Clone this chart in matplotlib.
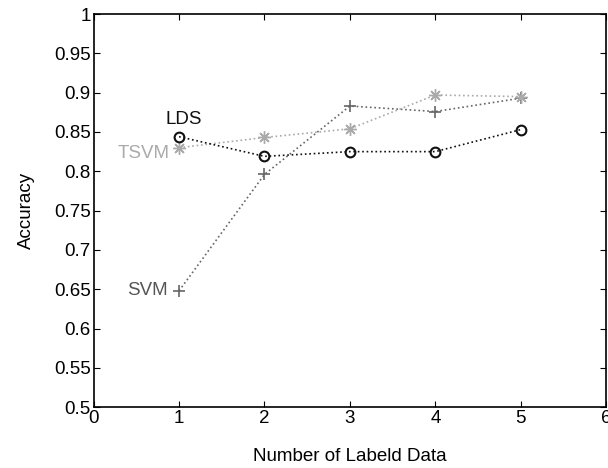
import numpy as np
import matplotlib
matplotlib.use('Agg')
import matplotlib.pyplot as plt

plt.rcParams['font.family'] = ['Liberation Sans', 'DejaVu Sans']

x = [1, 2, 3, 4, 5]
lds = [0.844, 0.819, 0.825, 0.825, 0.853]
tsvm = [0.830, 0.843, 0.854, 0.897, 0.895]
svm = [0.648, 0.796, 0.883, 0.876, 0.893]

xticks = [0, 1, 2, 3, 4, 5, 6]
yticks = [0.5, 0.55, 0.6, 0.65, 0.7, 0.75, 0.8, 0.85, 0.9, 0.95, 1]
ytick_labels = ['0.5', '0.55', '0.6', '0.65', '0.7', '0.75', '0.8', '0.85', '0.9', '0.95', '1']

fs = 13.5

fig = plt.figure(figsize=(6.08, 4.68), dpi=100)
ax = fig.add_axes([0.154, 0.13, 0.843, 0.84])

ax.plot(x, svm, linestyle=':', color='#666666', marker='+', markersize=9,
        markeredgewidth=1.2, linewidth=1.2)
ax.plot(x, tsvm, linestyle=':', color='#aaaaaa', marker=(8, 2, 0), markersize=9,
        markeredgewidth=1.0, linewidth=1.2)
ax.plot(x, lds, linestyle=':', color='#111111', marker='o', markersize=7,
        markerfacecolor='none', markeredgewidth=1.5, linewidth=1.2)

ax.text(1.06, 0.866, 'LDS', color='#111111', fontsize=fs, ha='center', va='center')
ax.text(0.89, 0.822, 'TSVM', color='#aaaaaa', fontsize=fs, ha='right', va='center')
ax.text(0.87, 0.649, 'SVM', color='#555555', fontsize=fs, ha='right', va='center')

ax.set_xlim(0, 6)
ax.set_ylim(0.5, 1)
ax.set_xticks(xticks)
ax.set_yticks(yticks)
ax.set_yticklabels(ytick_labels)
ax.tick_params(direction='in', top=True, right=True, labelsize=fs, length=4, pad=2)
for s in ax.spines.values():
    s.set_linewidth(1.2)

ax.set_xlabel('Number of Labeld Data', fontsize=fs, labelpad=15)
ax.set_ylabel('Accuracy', fontsize=fs, labelpad=14)

fig.savefig('out.png', dpi=100)
